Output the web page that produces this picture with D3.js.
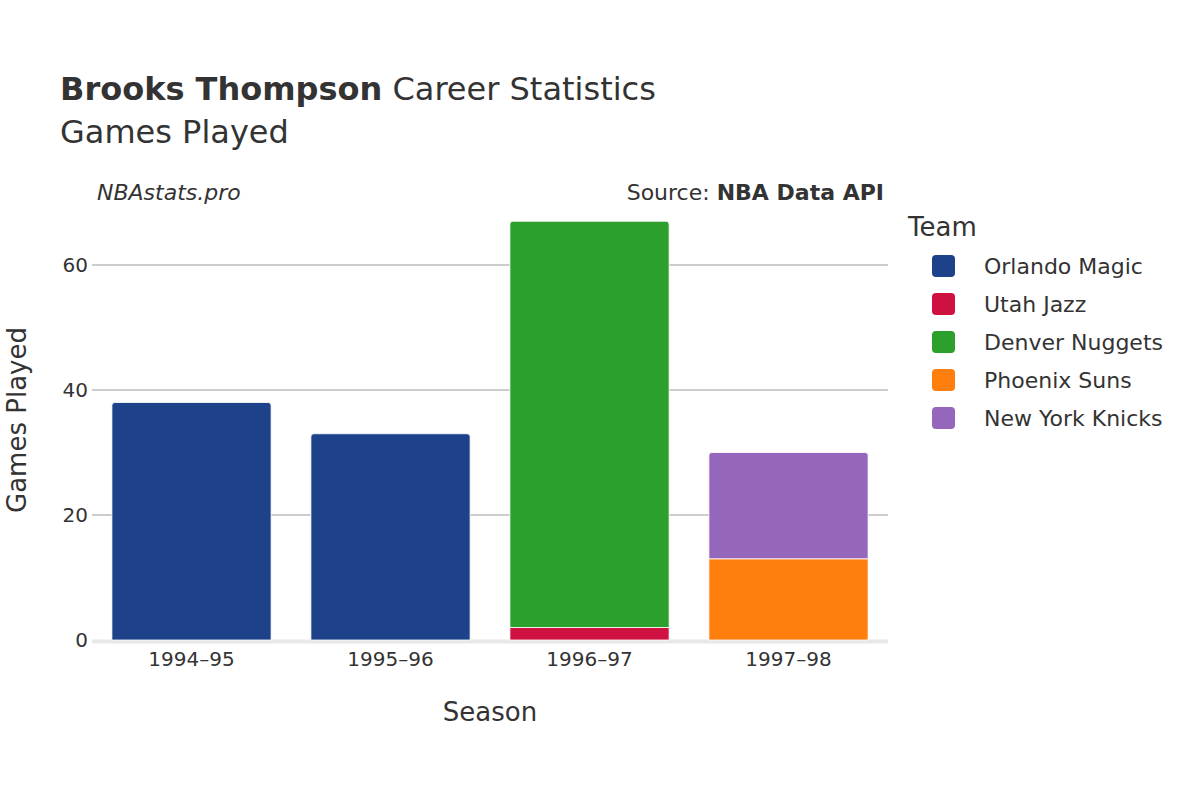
<!DOCTYPE html>
<html><head><meta charset="utf-8">
<script src="https://cdn.jsdelivr.net/npm/d3@7"></script>
<style>body{margin:0;background:#fff}text{font-family:"DejaVu Sans",sans-serif;fill:#333}</style>
</head><body><svg id="c" width="1200" height="800"></svg>
<script>
const seasons = ["1994–95","1995–96","1996–97","1997–98"];
const teams = ["Orlando Magic","Utah Jazz","Denver Nuggets","Phoenix Suns","New York Knicks"];
const colors = ["#1d428a","#ce1141","#2ca02c","#ff7f0e","#9467bd"];
const orlando = [38,33,0,0];
const utah = [0,0,2,0];
const denver = [0,0,65,0];
const phoenix = [0,0,0,13];
const knicks = [0,0,0,17];
const yTicks = [0,20,40,60];
const series = [orlando,utah,denver,phoenix,knicks];

const svg = d3.select("#c");
const L=92,R=888,T=172,B=640;
const x = d3.scaleBand().domain(seasons).range([L,R]).paddingInner(0.2).paddingOuter(0.1);
const y = d3.scaleLinear().domain([0,70.5]).range([B,B-70.5*6.25]);

svg.append("g").selectAll("line").data(yTicks.filter(d=>d>0)).join("line")
 .attr("x1",L).attr("x2",R).attr("y1",d=>y(d)).attr("y2",d=>y(d)).attr("stroke","#999").attr("stroke-width",1);
svg.append("line").attr("x1",L).attr("x2",R).attr("y1",y(0)+1.5).attr("y2",y(0)+1.5).attr("stroke","#e8e8e8").attr("stroke-width",4);

seasons.forEach((s,i)=>{
  let base=0;
  const segs=[];
  series.forEach((arr,k)=>{ if(arr[i]>0){segs.push({k,y0:base,y1:base+arr[i]}); base+=arr[i];}});
  segs.forEach((sg,j)=>{
    const top=j===segs.length-1, r=top?3:0;
    const x0=x(s), w=x.bandwidth(), yt=y(sg.y1), yb=y(sg.y0);
    const p=`M${x0},${yb}L${x0},${yt+r}Q${x0},${yt} ${x0+r},${yt}L${x0+w-r},${yt}Q${x0+w},${yt} ${x0+w},${yt+r}L${x0+w},${yb}Z`;
    svg.append("path").attr("d",p).attr("fill",colors[sg.k]).attr("stroke","#fff").attr("stroke-width",0.8);
  });
});

svg.append("g").selectAll("text").data(yTicks).join("text")
 .attr("x",L-4).attr("y",d=>y(d)+7).attr("text-anchor","end").attr("font-size",20).text(d=>d);
svg.append("g").selectAll("text").data(seasons).join("text")
 .attr("x",d=>x(d)+x.bandwidth()/2).attr("y",666).attr("text-anchor","middle").attr("font-size",20).text(d=>d);

svg.append("text").attr("x",490).attr("y",721).attr("text-anchor","middle").attr("font-size",26).text("Season");
svg.append("text").attr("transform","translate(26,420) rotate(-90)").attr("text-anchor","middle").attr("font-size",26).text("Games Played");

const t=svg.append("text").attr("x",60).attr("y",100).attr("font-size",32);
t.append("tspan").attr("font-weight","bold").text("Brooks Thompson");
t.append("tspan").text(" Career Statistics");
svg.append("text").attr("x",60).attr("y",143).attr("font-size",32).text("Games Played");
svg.append("text").attr("x",97).attr("y",200).attr("font-size",22).attr("font-style","italic").text("NBAstats.pro");
const s=svg.append("text").attr("x",884).attr("y",200).attr("font-size",22).attr("text-anchor","end");
s.append("tspan").text("Source: ");
s.append("tspan").attr("font-weight","bold").text("NBA Data API");

svg.append("text").attr("x",908).attr("y",236).attr("font-size",26).text("Team");
teams.forEach((tm,i)=>{
  const yy=266+i*38;
  svg.append("rect").attr("x",932).attr("y",yy-11).attr("width",23).attr("height",22).attr("rx",4).attr("fill",colors[i]);
  svg.append("text").attr("x",984).attr("y",yy+8).attr("font-size",22).text(tm);
});
</script></body></html>
